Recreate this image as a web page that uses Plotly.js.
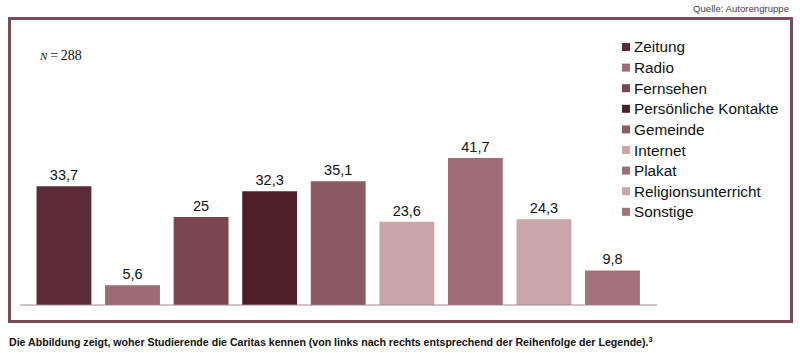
<!DOCTYPE html>
<html>
<head>
<meta charset="utf-8">
<script src="https://cdn.plot.ly/plotly-3.0.1.min.js"></script>
<style>
html,body{margin:0;padding:0;background:#fff;}
#chart{width:800px;height:353px;}
</style>
</head>
<body>
<div id="chart"></div>
<script>
const categories = ["Zeitung","Radio","Fernsehen","Persönliche Kontakte","Gemeinde","Internet","Plakat","Religionsunterricht","Sonstige"];
const values = [33.7, 5.6, 25, 32.3, 35.1, 23.6, 41.7, 24.3, 9.8];
const colors = ["#5c2b37","#9d6b73","#7b4650","#4d1f29","#8b5a63","#c9a4a8","#9f6d76","#caa6aa","#a3717a"];

const W = 800, H = 353;
const L = 20, R = 143, T = 30, B = 48;
const pw = W - L - R, ph = H - T - B;
const px = x => (x - L) / pw;
const py = y => (H - B - y) / ph;

const traces = categories.map((c, i) => ({
  type: 'bar',
  name: c,
  x: [i],
  y: [values[i]],
  width: 0.8,
  marker: {color: colors[i], line: {width: 0}},
  text: [String(values[i]).replace('.', ',')],
  textposition: 'outside',
  cliponaxis: false,
  textfont: {family: 'Liberation Sans, Arial, sans-serif', size: 14.5, color: '#111'},
  hoverinfo: 'skip',
  showlegend: false
}));

// legend drawn from the categories / colors arrays
const legendX = 622, legendY0 = 47, legendStep = 20.6, sq = 8;
const legendShapes = categories.map((c, i) => ({
  type: 'rect', xref: 'paper', yref: 'paper',
  x0: px(legendX), x1: px(legendX + sq),
  y0: py(legendY0 + i * legendStep + sq / 2), y1: py(legendY0 + i * legendStep - sq / 2),
  fillcolor: colors[i], line: {width: 0}
}));
const legendTexts = categories.map((c, i) => ({
  xref: 'paper', yref: 'paper', x: px(legendX + sq + 2), y: py(legendY0 + i * legendStep),
  xanchor: 'left', yanchor: 'middle', showarrow: false, text: c,
  font: {family: 'Liberation Sans, Arial, sans-serif', size: 15.3, color: '#111'}
}));

const layout = {
  width: W, height: H,
  margin: {l: L, r: R, t: T, b: B, pad: 0, autoexpand: false},
  paper_bgcolor: '#fff', plot_bgcolor: '#fff',
  barmode: 'overlay',
  showlegend: false,
  xaxis: {range: [-0.641, 8.649], showgrid: false, zeroline: false, showticklabels: false,
          ticks: '', showline: false, fixedrange: true},
  yaxis: {range: [0, ph / 3.525], showgrid: false, zeroline: false, showticklabels: false,
          ticks: '', showline: false, fixedrange: true},
  shapes: [
    {type: 'rect', xref: 'paper', yref: 'paper', x0: px(9.5), x1: px(791.5), y0: py(321.5), y1: py(18.5),
     line: {color: '#7f4a57', width: 3}, fillcolor: 'rgba(0,0,0,0)', layer: 'below'},
    {type: 'line', xref: 'paper', yref: 'paper', x0: px(20), x1: px(657), y0: 0, y1: 0,
     line: {color: '#a08890', width: 1}}
  ].concat(legendShapes),
  annotations: [
    {xref: 'paper', yref: 'paper', x: px(37), y: py(55), xanchor: 'left', yanchor: 'middle', showarrow: false,
     text: '<i><span style="font-size:11px">N</span></i>\u2009=\u2009288', font: {family: 'Liberation Serif, Times New Roman, serif', size: 14, color: '#111'}},
    {xref: 'paper', yref: 'paper', x: px(791), y: py(8.5), xanchor: 'right', yanchor: 'middle', showarrow: false,
     text: 'Quelle: Autorengruppe', font: {family: 'Liberation Sans, Arial, sans-serif', size: 9.6, color: '#444'}},
    {xref: 'paper', yref: 'paper', x: px(7), y: py(341), xanchor: 'left', yanchor: 'middle', showarrow: false,
     text: '<b>Die Abbildung zeigt, woher Studierende die Caritas kennen (von links nach rechts entsprechend der Reihenfolge der Legende).</b><sup><b>3</b></sup>',
     font: {family: 'Liberation Sans, Arial, sans-serif', size: 10.6, color: '#111'}}
  ].concat(legendTexts)
};

Plotly.newPlot('chart', traces, layout, {displayModeBar: false, staticPlot: true});
</script>
</body>
</html>
